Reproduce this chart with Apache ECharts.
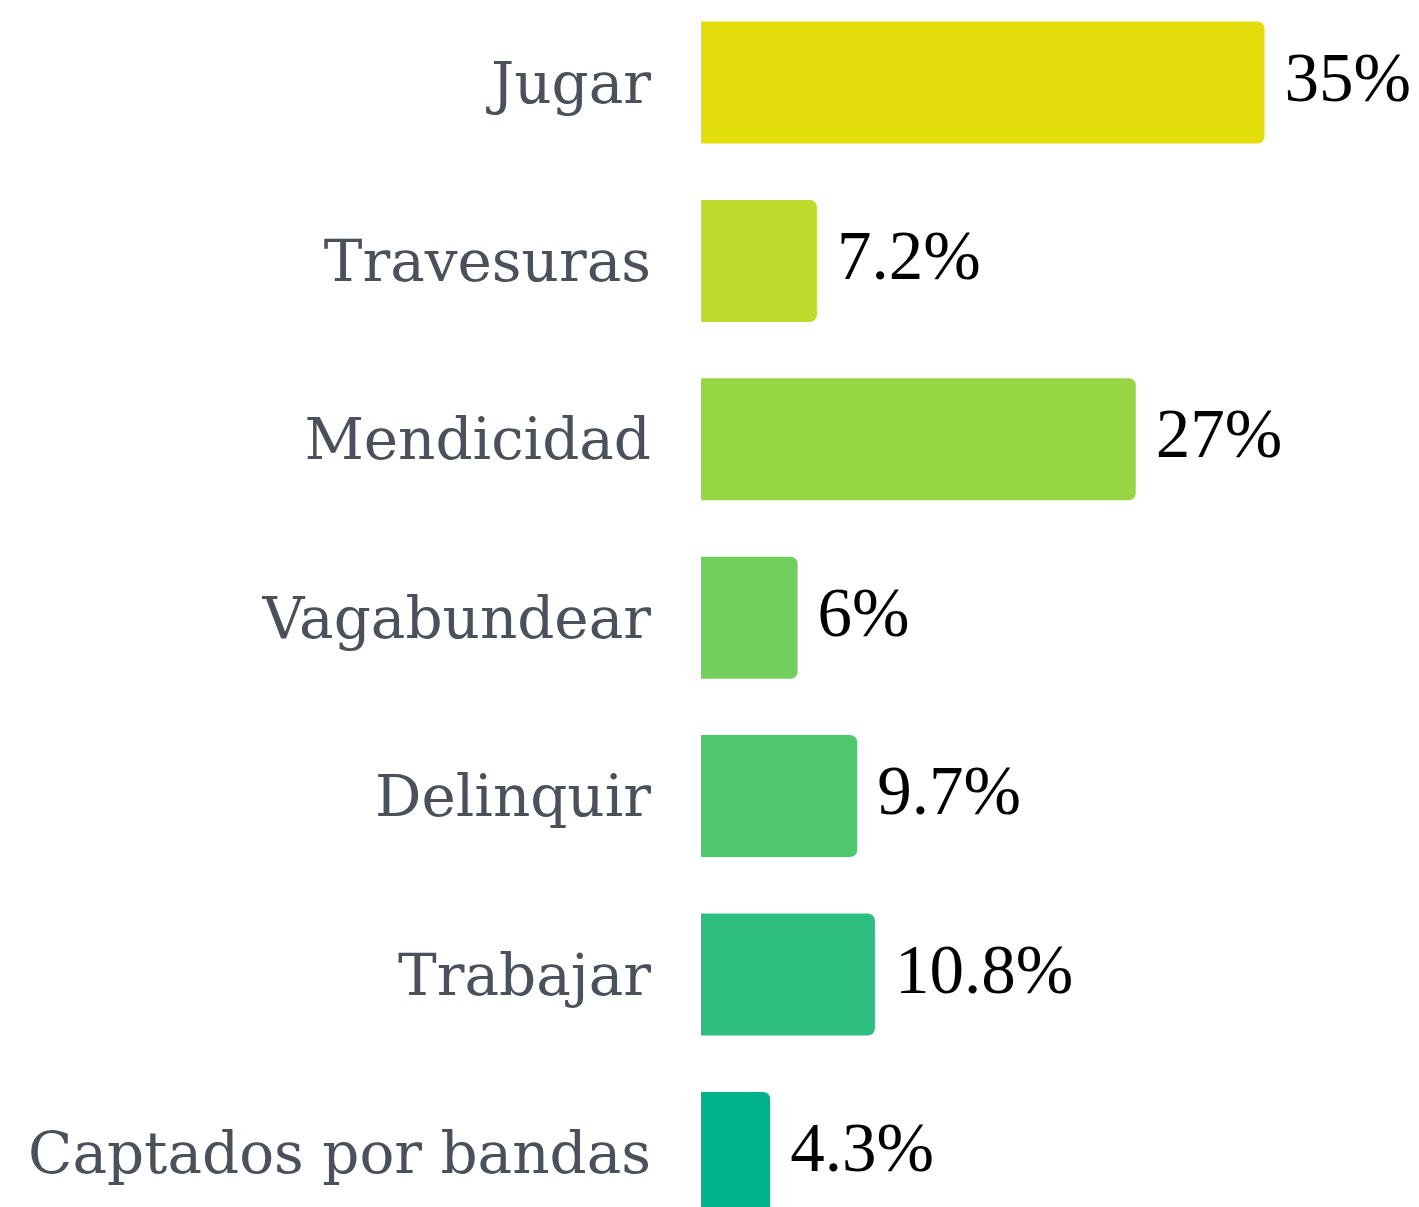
<!DOCTYPE html>
<html>
<head>
<meta charset="utf-8">
<script src="https://cdn.jsdelivr.net/npm/echarts@6/dist/echarts.min.js"></script>
<style>
html,body{margin:0;padding:0;background:#fff;}
#chart{width:1419px;height:1207px;}
</style>
</head>
<body>
<div id="chart"></div>
<script>
const categories = ['Jugar','Travesuras','Mendicidad','Vagabundear','Delinquir','Trabajar','Captados por bandas'];
const values = [35, 7.2, 27, 6, 9.7, 10.8, 4.3];
const valueLabels = ['35%','7.2%','27%','6%','9.7%','10.8%','4.3%'];
const barColors = ['#E3DE0B','#BEDB2D','#97D643','#73CF5D','#4FC76F','#2DBD7F','#00B38B'];

const chart = echarts.init(document.getElementById('chart'), null, {renderer:'canvas'});
chart.setOption({
  animation:false,
  backgroundColor:'#ffffff',
  grid:{left:701, width:644, top:-6.7, height:1248.8, containLabel:false, outerBoundsMode:'none'},
  xAxis:{type:'value', min:0, max:40, show:false},
  yAxis:{
    type:'category', data:categories, inverse:true,
    axisLine:{show:false}, axisTick:{show:false}, splitLine:{show:false},
    axisLabel:{margin:50, color:'#4a515b', fontFamily:'DejaVu Serif', fontSize:58,
      verticalAlign:'top', lineHeight:10}
  },
  series:[{
    type:'bar',
    barWidth:122,
    clip:false,
    data: values.map((v,i)=>({value:v, itemStyle:{color:barColors[i]}})),
    itemStyle:{borderRadius:[0,7,7,0]},
    label:{
      show:true, position:'right', distance:20,
      color:'#000', fontFamily:'Liberation Serif', fontSize:69,
      formatter:p=>valueLabels[p.dataIndex]
    }
  }]
});
</script>
</body>
</html>
